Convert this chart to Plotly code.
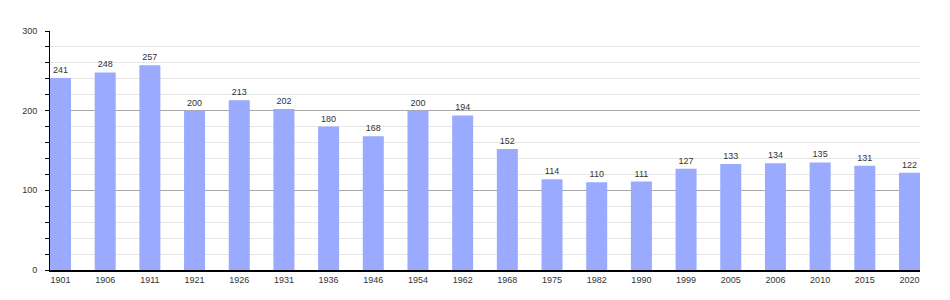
import plotly.graph_objects as go

years = ["1901", "1906", "1911", "1921", "1926", "1931", "1936", "1946", "1954", "1962",
         "1968", "1975", "1982", "1990", "1999", "2005", "2006", "2010", "2015", "2020"]
population = [241, 248, 257, 200, 213, 202, 180, 168, 200, 194,
              152, 114, 110, 111, 127, 133, 134, 135, 131, 122]
y_ticks = [0, 100, 200, 300]

xpos = list(range(len(years)))

fig = go.Figure(go.Bar(
    x=xpos, y=population, width=0.47,
    marker=dict(color="#99AAFF", line=dict(width=0)),
    text=[str(v) for v in population], textposition="outside",
    textfont=dict(family="Liberation Sans, Arial", size=9, color="#333333"),
    cliponaxis=False,
))

fig.update_layout(
    width=950, height=300,
    margin=dict(l=50, r=30, t=31, b=30),
    paper_bgcolor="white", plot_bgcolor="white",
    showlegend=False,
    font=dict(family="Liberation Sans, Arial", size=9, color="#333333"),
)
fig.update_xaxes(
    range=[-0.235, 19.235], tickvals=xpos, ticktext=years,
    showline=True, linecolor="black", linewidth=1.5,
    ticks="", showgrid=False, zeroline=False,
    tickfont=dict(size=9, color="#333333"),
)
fig.update_yaxes(
    range=[0, 300], tickvals=y_ticks,
    showline=True, linecolor="black", linewidth=1,
    ticks="outside", ticklen=4, tickcolor="black", tickwidth=1,
    ticklabelstandoff=6,
    showgrid=True, gridcolor="#A8A8A8", gridwidth=1,
    zeroline=False,
    minor=dict(dtick=20, ticks="outside", ticklen=4, tickcolor="black",
               showgrid=True, gridcolor="#E6E6E6", gridwidth=1),
    tickfont=dict(size=9, color="#333333"),
)

fig.write_html("out.html")
